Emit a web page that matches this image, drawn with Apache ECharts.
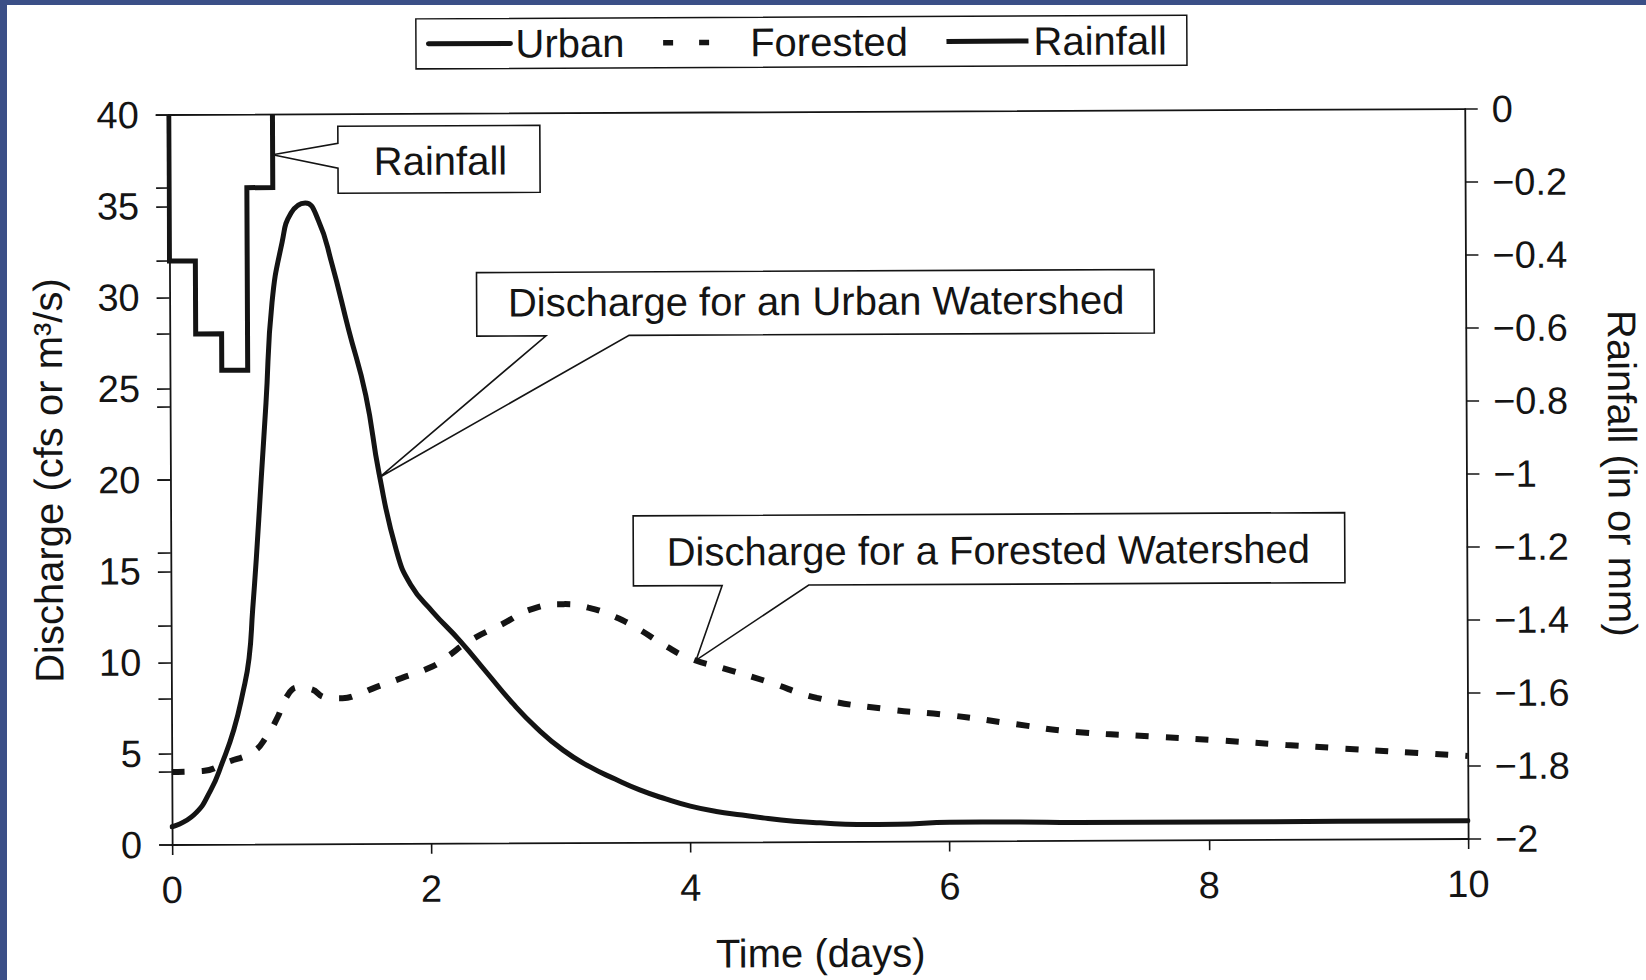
<!DOCTYPE html>
<html>
<head>
<meta charset="utf-8">
<script src="https://cdn.jsdelivr.net/npm/echarts@6/dist/echarts.min.js"></script>
<style>
html,body{margin:0;padding:0;background:#fff;overflow:hidden;width:1646px;height:980px}
#chart{position:absolute;left:0;top:0;width:1646px;height:980px;transform:rotate(-0.265deg);transform-origin:823px 490px}
.frameL{position:absolute;left:0;top:0;width:7px;height:980px;background:#3b4f87;z-index:5}
.frameT{position:absolute;left:0;top:0;width:1646px;height:5px;background:#3b4f87;z-index:5}
</style>
</head>
<body>
<div id="chart"></div><div class="frameL"></div><div class="frameT"></div>
<script>
// ---- data (time in days) ----
const urbanTime  = [0, 0.17, 0.30, 0.39, 0.48, 0.55, 0.60, 0.63, 0.66, 0.70, 0.74, 0.79, 0.87, 0.94, 1.05, 1.15, 1.25, 1.38, 1.51, 1.61, 1.74, 1.85, 2.02, 2.23, 2.43, 2.63, 2.82, 3.02, 3.22, 3.42, 3.61, 3.81, 4.0, 4.2, 4.4, 4.6, 4.8, 5.0, 5.3, 5.6, 6.0, 6.5, 7.0, 8.0, 9.0, 10.0];
const urbanFlow  = [1.0, 1.65, 3.0, 4.5, 6.3, 8.3, 10.2, 12.9, 15.7, 20.0, 24.2, 29.7, 33.0, 34.6, 35.15, 34.2, 31.9, 28.2, 24.6, 20.3, 16.1, 14.2, 12.7, 11.1, 9.4, 7.7, 6.3, 5.1, 4.2, 3.5, 2.9, 2.4, 2.0, 1.7, 1.5, 1.3, 1.15, 1.05, 0.95, 0.95, 1.05, 1.05, 1.0, 1.0, 1.0, 1.0];
const forestTime = [0, 0.24, 0.42, 0.63, 0.73, 0.82, 0.88, 0.98, 1.08, 1.19, 1.32, 1.42, 1.58, 1.78, 2.01, 2.12, 2.30, 2.55, 2.79, 3.03, 3.22, 3.42, 3.61, 3.81, 4.0, 4.28, 4.6, 4.98, 5.48, 6.02, 6.52, 6.93, 7.56, 8.02, 8.6, 9.02, 9.68, 10.0];
const forestFlow = [4.0, 4.05, 4.5, 5.1, 5.9, 7.0, 8.0, 8.6, 8.5, 8.05, 8.0, 8.15, 8.6, 9.1, 9.7, 10.2, 11.1, 12.0, 12.85, 13.1, 12.9, 12.4, 11.7, 10.8, 10.1, 9.5, 8.8, 7.9, 7.3, 6.9, 6.4, 6.0, 5.7, 5.5, 5.2, 5.0, 4.7, 4.55];
// rainfall: step start times and (negative) depths, ends at rainEnd
const rainStart = [0, 0.2, 0.4, 0.6];
const rainDepth = [-0.4, -0.6, -0.7, -0.2];
const rainEnd = 0.8;
// axis ticks
const xTicks = [0, 2, 4, 6, 8, 10];
const leftTicks = [0, 5, 10, 15, 20, 25, 30, 35, 40];
const rightTicks = [-2, -1.8, -1.6, -1.4, -1.2, -1, -0.8, -0.6, -0.4, -0.2, 0];
// callout anchor points (data space)
const rainTip = [0.8, -0.11];
const urbanTip = [1.615, 20.1];
const forestTip = [4.05, 10.0];

const FONT = '"Liberation Sans", Arial, Helvetica, sans-serif';
const INK = '#141414';

const urbanData = urbanTime.map((t, i) => [t, urbanFlow[i]]);
const forestData = forestTime.map((t, i) => [t, forestFlow[i]]);
const rainData = [[rainStart[0], 0]].concat(rainStart.map((t, i) => [t, rainDepth[i]])).concat([[rainEnd, 0]]);

const step = (arr) => arr[1] - arr[0];
const fmtRight = v => {
  const r = Math.round(v * 10) / 10;
  if (r === 0) return '0';
  return (r < 0 ? '\u2212' : '') + String(Math.abs(r));
};

const axisLineStyle = {color: INK, width: 1.8};
const chart = echarts.init(document.getElementById('chart'), null, {renderer: 'svg'});

const option = {
  backgroundColor: '#ffffff',
  animation: false,
  textStyle: {fontFamily: FONT, color: INK},
  grid: {left: 170.5, right: 179.5, top: 112, bottom: 138, containLabel: false, outerBoundsMode: 'none'},
  legend: {
    left: 418, top: 17,
    padding: [5, 20, 5, 10],
    borderColor: INK, borderWidth: 1.5, backgroundColor: '#fff',
    itemWidth: 82, itemHeight: 14, itemGap: 36,
    itemStyle: {opacity: 0, borderWidth: 0},
    lineStyle: {width: 5, color: INK},
    textStyle: {fontSize: 40, color: INK, fontFamily: FONT},
    data: [
      {name: 'Urban'},
      {name: 'Forested', lineStyle: {width: 5.5, color: INK, type: [10, 26, 10, 100]}},
      {name: 'Rainfall'}
    ]
  },
  xAxis: [
    {
      type: 'value', min: xTicks[0], max: xTicks[xTicks.length - 1], interval: step(xTicks),
      position: 'bottom',
      axisLine: {show: true, onZero: false, lineStyle: axisLineStyle},
      axisTick: {show: true, length: 10, lineStyle: {color: INK, width: 1.6}},
      axisLabel: {fontSize: 38, color: INK, fontFamily: FONT, margin: 26},
      splitLine: {show: false},
      name: 'Time (days)', nameLocation: 'middle', nameGap: 91,
      nameTextStyle: {fontSize: 40, color: INK, fontFamily: FONT}
    },
    {
      type: 'value', min: xTicks[0], max: xTicks[xTicks.length - 1], position: 'top',
      axisLine: {show: true, onZero: false, lineStyle: axisLineStyle},
      axisTick: {show: false}, axisLabel: {show: false}, splitLine: {show: false}
    }
  ],
  yAxis: [
    {
      type: 'value', min: leftTicks[0], max: leftTicks[leftTicks.length - 1], interval: step(leftTicks),
      position: 'left',
      axisLine: {show: true, onZero: false, lineStyle: axisLineStyle},
      axisTick: {show: true, length: 13, lineStyle: {color: INK, width: 1.6}},
      axisLabel: {fontSize: 38, color: INK, fontFamily: FONT, margin: 30},
      splitLine: {show: false},
      name: 'Discharge (cfs or m\u00B3/s)', nameLocation: 'middle', nameGap: 102,
      nameTextStyle: {fontSize: 40, color: INK, fontFamily: FONT}
    },
    {
      type: 'value', min: rightTicks[0], max: rightTicks[rightTicks.length - 1], interval: 0.2,
      position: 'right',
      axisLine: {show: true, onZero: false, lineStyle: axisLineStyle},
      axisTick: {show: true, inside: false, length: 13, lineStyle: {color: INK, width: 1.6}},
      axisLabel: {fontSize: 38, color: INK, fontFamily: FONT, margin: 27, formatter: fmtRight},
      splitLine: {show: false},
      name: 'Rainfall (in or mm)', nameLocation: 'middle', nameGap: 136, nameRotate: -90,
      nameTextStyle: {fontSize: 40, color: INK, fontFamily: FONT}
    },
    {
      type: 'value', min: rightTicks[0], max: rightTicks[rightTicks.length - 1], interval: 0.2,
      position: 'right',
      axisLine: {show: false},
      axisTick: {show: true, inside: true, length: 13, lineStyle: {color: INK, width: 1.6}},
      axisLabel: {show: false}, splitLine: {show: false}
    }
  ],
  series: [
    {
      name: 'Urban', type: 'line', xAxisIndex: 0, yAxisIndex: 0,
      data: urbanData, showSymbol: false, symbol: 'none', smooth: 0.5,
      lineStyle: {color: INK, width: 5, cap: 'round', join: 'round'},
      itemStyle: {color: INK}, z: 3
    },
    {
      name: 'Forested', type: 'line', xAxisIndex: 0, yAxisIndex: 0,
      data: forestData, showSymbol: false, symbol: 'none', smooth: 0.5,
      lineStyle: {color: INK, width: 6, type: [13, 17], cap: 'butt'},
      itemStyle: {color: INK}, z: 2
    },
    {
      name: 'Rainfall', type: 'line', xAxisIndex: 0, yAxisIndex: 1,
      data: rainData, step: 'end', showSymbol: false, symbol: 'none',
      lineStyle: {color: INK, width: 5, join: 'miter', cap: 'butt'},
      itemStyle: {color: INK}, z: 4
    }
  ]
};
chart.setOption(option);

// ---- callouts ----
const pRain = chart.convertToPixel({seriesIndex: 2}, rainTip);
const pUrban = chart.convertToPixel({seriesIndex: 0}, urbanTip);
const pForest = chart.convertToPixel({seriesIndex: 1}, forestTip);

const boxStyle = {fill: '#fff', stroke: INK, lineWidth: 1.6};
function leftCallout(L, T, R, B, w1, w2, tip) {
  return [[L, T], [R, T], [R, B], [L, B], [L, w2], tip, [L, w1]];
}
function bottomCallout(L, T, R, B, w1, w2, tip) {
  return [[L, T], [R, T], [R, B], [w2, B], tip, [w1, B], [L, B]];
}
function label(text, x, y) {
  return {type: 'text', x: x, y: y, z: 101,
    style: {text: text, fontSize: 40, fontFamily: FONT, fill: INK, align: 'center', verticalAlign: 'middle'}};
}
chart.setOption({
  graphic: [
    {type: 'polygon', z: 100, shape: {points: leftCallout(339.5, 124, 541.5, 191, 141, 166, pRain)}, style: boxStyle},
    label('Rainfall', 442, 159),
    {type: 'polygon', z: 100, shape: {points: bottomCallout(477.5, 271, 1155, 334.5, 546.7, 629.8, pUrban)}, style: boxStyle},
    label('Discharge for an Urban Watershed', 817, 301),
    {type: 'polygon', z: 100, shape: {points: bottomCallout(633, 515, 1344.5, 585, 721.7, 808.3, pForest)}, style: boxStyle},
    label('Discharge for a Forested Watershed', 988, 551)
  ]
});
</script>
</body>
</html>
